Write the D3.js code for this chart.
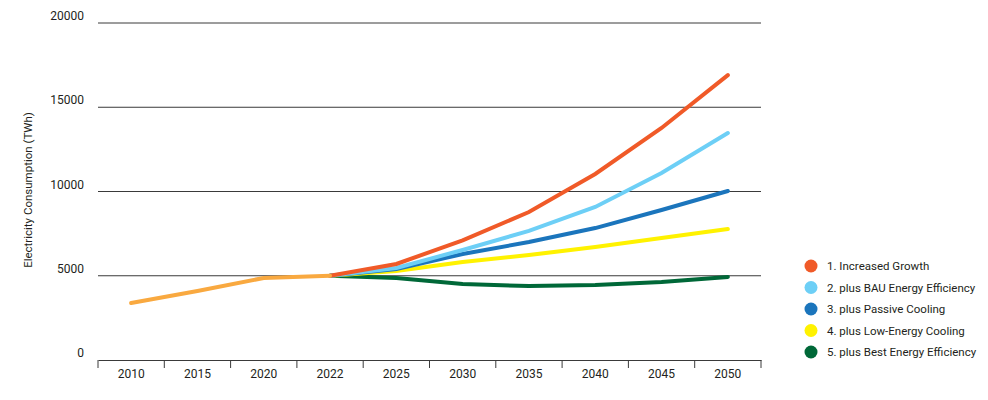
<!DOCTYPE html>
<html><head><meta charset="utf-8">
<script src="https://cdn.jsdelivr.net/npm/d3@7"></script>
<style>
body{margin:0;background:#fff;}
text{font-family:"Liberation Sans Narrow","Roboto",sans-serif;fill:#231f20;}
</style></head><body>
<svg id="chart" width="988" height="400"></svg>
<script>
var years = ["2010","2015","2020","2022","2025","2030","2035","2040","2045","2050"];
var historical = [3380, 4100, 4870, 5000];
var projYears = ["2022","2025","2030","2035","2040","2045","2050"];
var growth     = [5000, 5700, 7100, 8780, 11040, 13770, 16910];
var bauEff     = [5000, 5460, 6530, 7660, 9080, 11100, 13470];
var passive    = [5000, 5400, 6290, 7000, 7830, 8900, 10030];
var lowEnergy  = [5000, 5280, 5820, 6230, 6700, 7240, 7770];
var bestEff    = [5000, 4870, 4510, 4390, 4450, 4630, 4930];
var seriesNames = ["1. Increased Growth","2. plus BAU Energy Efficiency","3. plus Passive Cooling","4. plus Low-Energy Cooling","5. plus Best Energy Efficiency"];
var seriesColors = ["#f05a28","#6dcff6","#1b75bc","#fff200","#006838"];
var yTicks = [0, 5000, 10000, 15000, 20000];

var svg = d3.select("#chart");
var x = d3.scaleBand().domain(years).range([98, 761]);
var y = d3.scaleLinear().domain([0, 20000]).range([360, 23]);

// gridlines
svg.selectAll(".grid").data(yTicks.slice(1)).enter().append("line")
  .attr("x1", 98).attr("x2", 761)
  .attr("y1", function(d){ return y(d); }).attr("y2", function(d){ return y(d); })
  .attr("stroke", "#3a3a3a").attr("stroke-width", 1);

svg.selectAll(".ylab").data(yTicks).enter().append("text")
  .attr("x", 84).attr("y", function(d){ return y(d) - 3; })
  .attr("text-anchor", "end").attr("font-size", 12).text(function(d){ return d; });

svg.append("text").attr("transform", "translate(32,190) rotate(-90)")
  .attr("text-anchor", "middle").attr("font-size", 11.5)
  .text("Electricity Consumption (TWh)");

// x axis
var xAxis = svg.append("g").attr("transform", "translate(0,360)")
  .call(d3.axisBottom(x).tickSize(0).tickPadding(9));
xAxis.select(".domain").attr("stroke", "#3a3a3a");
xAxis.selectAll("text").attr("font-size", 12).attr("font-family", null);
var bounds = years.map(function(d){ return x(d); }).concat([x.range()[1]]);
xAxis.selectAll(".bt").data(bounds).enter().append("line")
  .attr("x1", function(d){ return d; }).attr("x2", function(d){ return d; })
  .attr("y1", 0).attr("y2", 8).attr("stroke", "#3a3a3a");

var line = d3.line()
  .x(function(d){ return x(d[0]) + x.bandwidth() / 2; })
  .y(function(d){ return y(d[1]); });

var all = [growth, bauEff, passive, lowEnergy, bestEff];
for (var i = all.length - 1; i >= 0; i--) {
  svg.append("path").datum(d3.zip(projYears, all[i]))
    .attr("d", line).attr("fill", "none")
    .attr("stroke", seriesColors[i]).attr("stroke-width", 4)
    .attr("stroke-linecap", "round");
}
svg.append("path").datum(d3.zip(years.slice(0, 4), historical))
  .attr("d", line).attr("fill", "none")
  .attr("stroke", "#f9a940").attr("stroke-width", 4).attr("stroke-linecap", "round");

// legend
var leg = svg.selectAll(".leg").data(seriesNames).enter().append("g")
  .attr("transform", function(d, i){ return "translate(811," + (266 + i * 21.5) + ")"; });
leg.append("circle").attr("r", 6.5).attr("fill", function(d, i){ return seriesColors[i]; });
leg.append("text").attr("x", 16).attr("y", 4).attr("font-size", 11.5).text(function(d){ return d; });
</script>
</body></html>
